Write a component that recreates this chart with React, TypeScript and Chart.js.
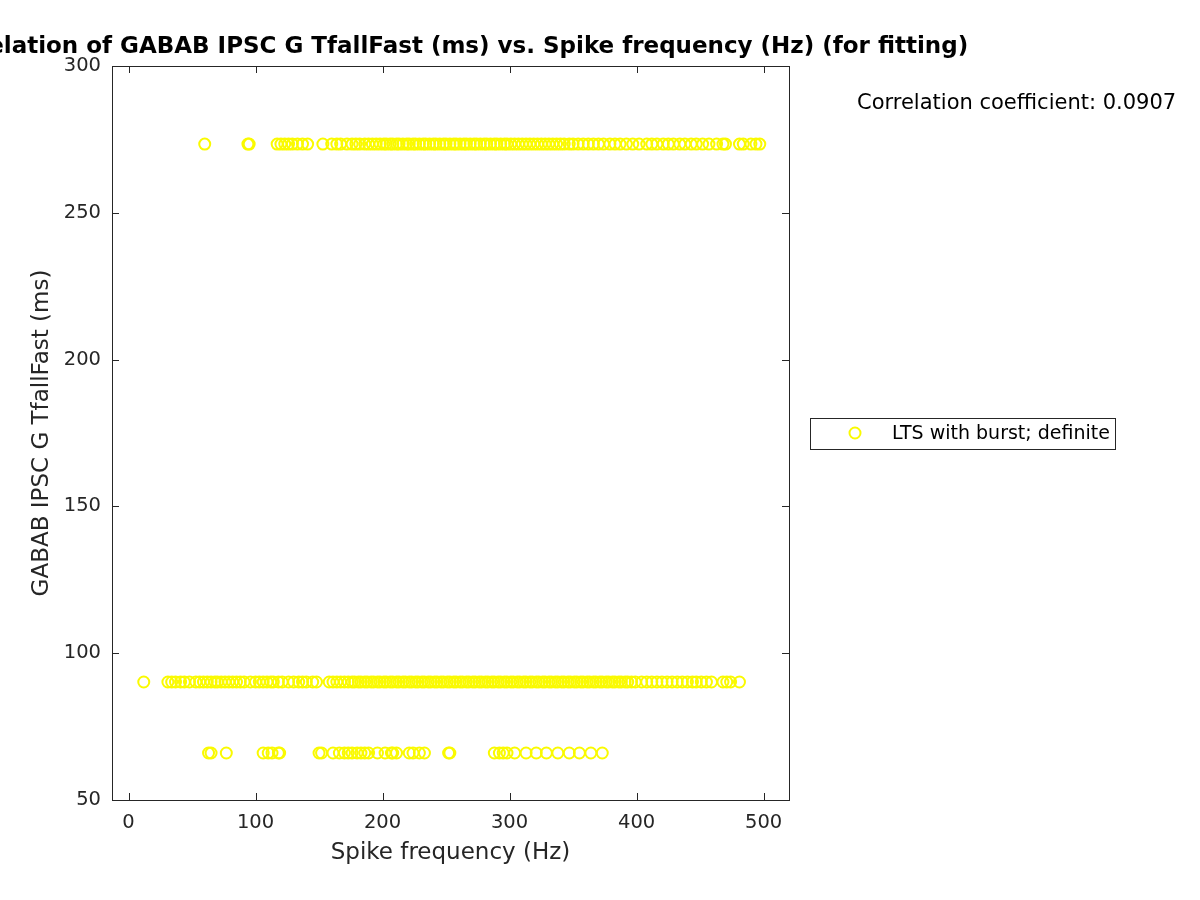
import React, { useEffect, useRef } from "react";
import { Chart, registerables } from "chart.js";

Chart.register(...registerables);

const TITLE = "Correlation of GABAB IPSC G TfallFast (ms) vs. Spike frequency (Hz) (for fitting)";
const X_LABEL = "Spike frequency (Hz)";
const Y_LABEL = "GABAB IPSC G TfallFast (ms)";
const SERIES_NAME = "LTS with burst; definite";
const CORR_TEXT = "Correlation coefficient: 0.0907";

const X_TICKS = [0, 100, 200, 300, 400, 500];
const Y_TICKS = [50, 100, 150, 200, 250, 300];
const X_RANGE = [-13, 520];
const Y_RANGE = [50, 300];

// three observed levels of TfallFast (ms)
const LEVELS = [273.4, 90.2, 66.0];

// spike frequencies (Hz) of cells at each level
const xHigh = [
  60, 94, 95, 117, 120, 123, 126, 129, 133, 137, 141, 153, 160, 164, 167, 172, 176, 179, 182, 186,
  189, 192, 195, 198, 201, 203, 206, 208, 211, 213, 216, 219, 221, 224, 226, 229, 232, 234, 237, 240,
  242, 245, 248, 250, 253, 256, 258, 261, 264, 266, 269, 272, 274, 277, 280, 282, 285, 288, 290, 293,
  296, 298, 301, 304, 307, 310, 313, 316, 319, 322, 325, 328, 331, 334, 337, 340, 343, 347, 350, 354,
  358, 362, 366, 370, 374, 379, 383, 387, 392, 397, 402, 408, 412, 416, 421, 425, 429, 434, 438, 443,
  447, 452, 457, 463, 468, 470, 481, 484, 490, 494, 497,
];
const xMid = [
  12, 31, 34, 37, 41, 44, 48, 53, 56, 59, 62, 65, 68, 70, 73, 76, 79, 82, 85, 88,
  91, 96, 100, 103, 106, 109, 112, 114, 118, 121, 126, 130, 134, 137, 140, 145, 148, 158, 161, 164,
  167, 170, 173, 176, 178, 181, 183, 186, 188, 191, 193, 196, 198, 201, 203, 206, 208, 211, 213, 216,
  218, 221, 223, 226, 228, 231, 233, 236, 238, 241, 243, 246, 248, 251, 253, 256, 258, 261, 263, 266,
  268, 271, 273, 276, 278, 281, 283, 286, 288, 291, 293, 296, 298, 301, 303, 306, 308, 311, 313, 316,
  318, 321, 323, 326, 328, 331, 333, 336, 338, 341, 343, 346, 348, 351, 353, 356, 358, 361, 363, 366,
  368, 371, 373, 376, 378, 381, 383, 386, 388, 391, 393, 396, 399, 404, 408, 412, 416, 420, 424, 428,
  432, 436, 440, 444, 447, 451, 455, 459, 468, 471, 474, 481,
];
const xLow = [
  63, 65, 77, 106, 110, 113, 118, 119, 150, 152, 161, 166, 170, 173, 176, 180, 183, 186, 189, 196,
  202, 207, 208, 211, 221, 224, 229, 233, 252, 253, 288, 292, 295, 298, 304, 313, 321, 329, 338, 347,
  355, 364, 373,
];

const MARKER_COLOR = "rgb(250,250,0)";
const AXIS_COLOR = "#262626";
const FONT = "'DejaVu Sans', sans-serif";

function buildPoints() {
  const groups = [xHigh, xMid, xLow];
  const pts: { x: number; y: number }[] = [];
  groups.forEach((xs, i) => xs.forEach((x) => pts.push({ x, y: LEVELS[i] })));
  return pts;
}

const framePlugin = {
  id: "matlabFrame",
  afterDraw(chart: any) {
    const { ctx, chartArea: a, scales } = chart;
    ctx.save();
    ctx.strokeStyle = AXIS_COLOR;
    ctx.lineWidth = 1;
    const line = (x1: number, y1: number, x2: number, y2: number) => {
      ctx.beginPath();
      ctx.moveTo(x1, y1);
      ctx.lineTo(x2, y2);
      ctx.stroke();
    };
    ctx.strokeRect(Math.round(a.left) + 0.5, Math.round(a.top) + 0.5, Math.round(a.right - a.left), Math.round(a.bottom - a.top));
    const tl = 7;
    scales.x.ticks.forEach((t: any) => {
      const px = Math.round(scales.x.getPixelForValue(t.value)) + 0.5;
      line(px, a.bottom, px, a.bottom - tl);
      line(px, a.top, px, a.top + tl);
    });
    scales.y.ticks.forEach((t: any) => {
      const py = Math.round(scales.y.getPixelForValue(t.value)) + 0.5;
      line(a.left, py, a.left + tl, py);
      line(a.right, py, a.right - tl, py);
    });

    // title
    ctx.fillStyle = "#000";
    ctx.font = `bold 23px ${FONT}`;
    ctx.textAlign = "center";
    ctx.textBaseline = "middle";
    ctx.fillText(TITLE, (a.left + a.right) / 2, 47);

    // axis labels
    ctx.fillStyle = AXIS_COLOR;
    ctx.font = `23px ${FONT}`;
    ctx.fillText(X_LABEL, (a.left + a.right) / 2, 853);
    ctx.save();
    ctx.translate(42, (a.top + a.bottom) / 2);
    ctx.rotate(-Math.PI / 2);
    ctx.fillText(Y_LABEL, 0, 0);
    ctx.restore();

    // correlation text
    ctx.fillStyle = "#000";
    ctx.font = `21px ${FONT}`;
    ctx.textAlign = "left";
    ctx.fillText(CORR_TEXT, 857, 104);

    // legend
    ctx.fillStyle = "#fff";
    ctx.fillRect(810.5, 418.5, 305, 31);
    ctx.strokeStyle = AXIS_COLOR;
    ctx.lineWidth = 1;
    ctx.strokeRect(810.5, 418.5, 305, 31);
    ctx.strokeStyle = MARKER_COLOR;
    ctx.lineWidth = 2;
    ctx.beginPath();
    ctx.arc(855, 433, 5.5, 0, Math.PI * 2);
    ctx.stroke();
    ctx.fillStyle = "#000";
    ctx.font = `19px ${FONT}`;
    ctx.fillText(SERIES_NAME, 892, 434);
    ctx.restore();
  },
};

export default function App() {
  const ref = useRef<HTMLCanvasElement>(null);
  useEffect(() => {
    if (!ref.current) return;
    const chart = new Chart(ref.current, {
      type: "scatter",
      data: {
        datasets: [
          {
            label: SERIES_NAME,
            data: buildPoints(),
            pointStyle: "circle",
            pointRadius: 5.5,
            pointBorderWidth: 2,
            borderColor: MARKER_COLOR,
            backgroundColor: "rgba(0,0,0,0)",
          },
        ],
      },
      options: {
        animation: false,
        responsive: false,
        layout: { padding: { top: 66, right: 411, bottom: 0, left: 0 } },
        plugins: { legend: { display: false }, tooltip: { enabled: false }, title: { display: false } },
        scales: {
          x: {
            type: "linear",
            min: X_RANGE[0],
            max: X_RANGE[1],
            afterBuildTicks: (s: any) => {
              s.ticks = X_TICKS.map((v) => ({ value: v }));
            },
            afterFit: (s: any) => {
              s.height = 100;
            },
            grid: { display: false, drawTicks: false },
            border: { display: false },
            ticks: { color: AXIS_COLOR, font: { family: FONT, size: 19.5 }, padding: 11, maxRotation: 0 },
          },
          y: {
            type: "linear",
            min: Y_RANGE[0],
            max: Y_RANGE[1],
            afterBuildTicks: (s: any) => {
              s.ticks = Y_TICKS.map((v) => ({ value: v }));
            },
            afterFit: (s: any) => {
              s.width = 112;
            },
            grid: { display: false, drawTicks: false },
            border: { display: false },
            ticks: { color: AXIS_COLOR, font: { family: FONT, size: 19.5 }, padding: 11 },
          },
        },
      },
      plugins: [framePlugin],
    });
    return () => chart.destroy();
  }, []);
  return (
    <div style={{ position: "fixed", left: 0, top: 0, width: 1200, height: 900, background: "#fff" }}>
      <canvas ref={ref} width={1200} height={900} />
    </div>
  );
}
